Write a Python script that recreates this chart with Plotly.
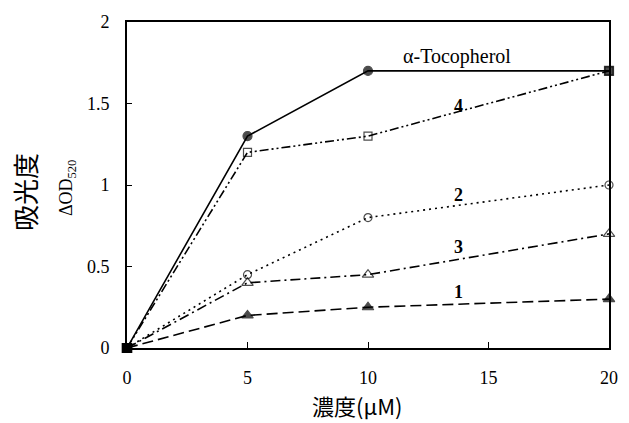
import plotly.graph_objects as go

conc = [0, 5, 10, 20]
toco = [0, 1.3, 1.7, 1.7]
s4 = [0, 1.2, 1.3, 1.7]
s2 = [0, 0.45, 0.8, 1.0]
s3 = [0, 0.4, 0.45, 0.7]
s1 = [0, 0.2, 0.25, 0.3]
xticks = [0, 5, 10, 15, 20]
yticks = [0, 0.5, 1, 1.5, 2]
ytick_text = ["0", "0.5", "1", "1.5", "2"]
series_labels = ["α-Tocopherol", "<b>4</b>", "<b>2</b>", "<b>3</b>", "<b>1</b>"]
label_pos = [(13.7, 1.79), (13.77, 1.485), (13.77, 0.94), (13.77, 0.62), (13.77, 0.345)]

fig = go.Figure()

def add(y, dash, symbols, sizes):
    fig.add_trace(go.Scatter(
        x=conc, y=y, mode="lines+markers",
        line=dict(color="black", width=1.6, dash=dash),
        marker=dict(symbol=symbols, size=sizes, color="black",
                    line=dict(color="black", width=1.2)),
        cliponaxis=False, showlegend=False))

add(s1, "11px,5px", ["square", "triangle-up", "triangle-up", "triangle-up"], [9, 10, 10, 10])
add(s3, "10px,4px,2px,4px", ["square", "triangle-up-open", "triangle-up-open", "triangle-up-open"], [9, 10, 10, 10])
add(s2, "2px,4px", ["square", "circle-open", "circle-open", "circle-open"], [9, 8, 8, 8])
add(s4, "9px,3px,2px,3px,2px,3px", ["square", "square-open", "square-open", "square-open"], [9, 8, 8, 8])
add(toco, "solid", ["square", "circle", "circle", "square"], [9, 9, 9, 9])

serif = "Liberation Serif, Times New Roman, serif"
for i, (txt, (xx, yy)) in enumerate(zip(series_labels, label_pos)):
    fig.add_annotation(x=xx, y=yy, text=txt, showarrow=False,
                       font=dict(family=serif, size=20 if i == 0 else 18, color="black"))

fig.add_annotation(xref="paper", yref="paper", x=(22 - 127) / 491, y=(348 - 192) / 326,
                   xanchor="center", yanchor="middle", text="吸光度",
                   textangle=-90, showarrow=False,
                   font=dict(family="Noto Sans CJK JP", size=26, color="black"))
fig.add_annotation(xref="paper", yref="paper", x=(67 - 127) / 491, y=(348 - 188) / 326,
                   xanchor="center", yanchor="middle", text="ΔOD<sub>520</sub>",
                   textangle=-90, showarrow=False,
                   font=dict(family=serif, size=18, color="black"))
fig.add_annotation(xref="paper", yref="paper", x=(362 - 127) / 491, y=(348 - 405) / 326,
                   xanchor="center", yanchor="middle", text="濃度(μM)",
                   showarrow=False,
                   font=dict(family="Noto Sans CJK JP", size=22, color="black"))

fig.update_layout(
    width=629, height=423,
    margin=dict(l=127, r=11, t=22, b=75),
    paper_bgcolor="white", plot_bgcolor="white",
    xaxis=dict(range=[0, 20], tickvals=xticks, ticks="inside", ticklen=6,
               tickcolor="black", showgrid=False, zeroline=False,
               showline=True, linecolor="black", linewidth=2, mirror=True,
               ticklabelstandoff=12,
               tickfont=dict(family=serif, size=18, color="black")),
    yaxis=dict(range=[0, 2], tickvals=yticks, ticktext=ytick_text, ticks="inside", ticklen=5,
               tickcolor="black", showgrid=False, zeroline=False,
               showline=True, linecolor="black", linewidth=2, mirror=True,
               ticklabelstandoff=12,
               tickfont=dict(family=serif, size=18, color="black")),
)

fig.write_html("out.html", post_script="document.body.style.margin='0';",
               config={"displayModeBar": False})
